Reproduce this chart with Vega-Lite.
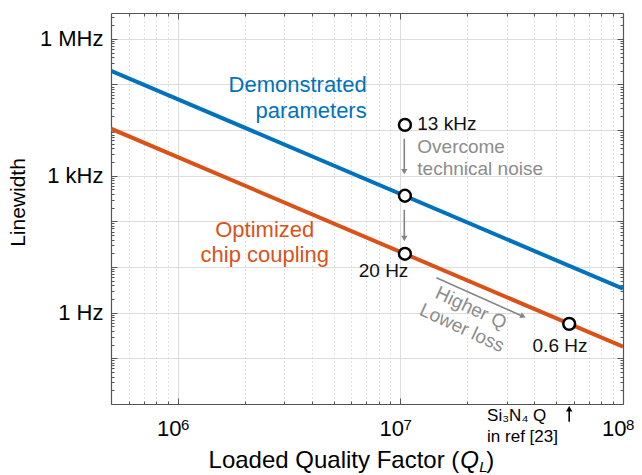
{
  "$schema": "https://vega.github.io/schema/vega-lite/v6.json",
  "autosize": {"type": "none"},
  "padding": {"left": 111, "top": 13, "right": 19, "bottom": 71},
  "width": 512,
  "height": 391,
  "config": {"font": "Liberation Sans", "view": {"stroke": null}},
  "datasets": {
    "lines": [
      {"series": "Demonstrated parameters", "q": 500000, "linewidth": 199500},
      {"series": "Demonstrated parameters", "q": 100000000, "linewidth": 3.35},
      {"series": "Optimized chip coupling", "q": 500000, "linewidth": 10715},
      {"series": "Optimized chip coupling", "q": 100000000, "linewidth": 0.18}
    ],
    "points": [
      {"q": 10470000, "linewidth": 13000},
      {"q": 10470000, "linewidth": 365},
      {"q": 10470000, "linewidth": 19.5},
      {"q": 57300000, "linewidth": 0.57}
    ],
    "grayArrows": [
      {"q": 10400000, "linewidth": 6460, "q2": 10400000, "linewidth2": 1290},
      {"q": 10400000, "linewidth": 180, "q2": 10400000, "linewidth2": 44},
      {"q": 14500000, "linewidth": 5.84, "q2": 34900000, "linewidth2": 0.86}
    ],
    "downHeads": [
      {"q": 10400000, "linewidth": 1230},
      {"q": 10400000, "linewidth": 42}
    ],
    "diagHead": [{"q": 35560000, "linewidth": 0.834}],
    "blackArrow": [{"q": 57300000, "linewidth": 0.0041, "q2": 57300000, "linewidth2": 0.0076}],
    "upHead": [{"q": 57300000, "linewidth": 0.0079}],
    "exponents": [
      {"label": "6", "q": 1031500, "linewidth": 0.002735},
      {"label": "7", "q": 10315000, "linewidth": 0.002735},
      {"label": "8", "q": 103150000, "linewidth": 0.002735}
    ]
  },
  "resolve": {"axis": {"x": "independent", "y": "independent"}},
  "layer": [
    {
      "data": {"name": "lines"},
      "mark": {"type": "line", "strokeWidth": 4, "clip": true},
      "encoding": {
        "x": {"field": "q", "type": "quantitative",
          "scale": {"type": "log", "domain": [500000, 100000000], "nice": false},
          "axis": {"orient": "bottom", "values": [1000000, 10000000, 100000000],
            "labelExpr": "'10'", "labelAlign": "right", "labelOffset": 3,
            "labelFontSize": 22, "labelColor": "#000", "labelPadding": 20, "labelFlush": false, "labelOverlap": false,
            "tickSize": -6, "tickColor": "#555", "domainColor": "#555", "domainWidth": 1.2,
            "grid": true, "gridColor": "#dddddd", "gridWidth": 1, "title": null}},
        "y": {"field": "linewidth", "type": "quantitative",
          "scale": {"type": "log", "domain": [0.01, 3670000], "nice": false},
          "axis": {"orient": "left", "values": [0.01, 0.1, 1, 10, 100, 1000, 10000, 100000, 1000000],
            "labelExpr": "datum.value == 1 ? '1 Hz' : datum.value == 1000 ? '1 kHz' : datum.value == 1000000 ? '1 MHz' : ''",
            "labelFontSize": 22, "labelColor": "#000", "labelPadding": 14, "labelFlush": false, "labelOverlap": false,
            "tickSize": -6, "tickColor": "#555", "domainColor": "#555", "domainWidth": 1.2,
            "grid": true, "gridColor": "#dddddd", "gridWidth": 1,
            "title": "Linewidth", "titleFontSize": 21, "titleFontWeight": "normal", "titleColor": "#000",
            "titleX": -93, "titleY": 189, "titleBaseline": "middle", "titleAlign": "center", "titleAngle": 270}},
        "color": {"field": "series", "type": "nominal",
          "scale": {"domain": ["Demonstrated parameters", "Optimized chip coupling"], "range": ["#0072BD", "#D95319"]},
          "legend": null}
      }
    },
    {
      "data": {"name": "points"},
      "mark": {"type": "point", "shape": "circle", "filled": true, "fill": "#ffffff", "stroke": "#000000", "strokeWidth": 2.5, "size": 140, "opacity": 1},
      "encoding": {
        "x": {"field": "q", "type": "quantitative",
          "axis": {"orient": "bottom", "values": [600000, 700000, 800000, 900000, 2000000, 3000000, 4000000, 5000000, 6000000, 7000000, 8000000, 9000000, 20000000, 30000000, 40000000, 50000000, 60000000, 70000000, 80000000, 90000000],
            "labels": false, "tickSize": -3, "tickColor": "#555", "domain": false,
            "grid": true, "gridColor": "#c4c4c4", "gridDash": [1, 3], "gridWidth": 1, "title": null}},
        "y": {"field": "linewidth", "type": "quantitative",
          "axis": {"orient": "left", "values": [0.02, 0.03, 0.04, 0.05, 0.06, 0.07, 0.08, 0.09, 0.2, 0.3, 0.4, 0.5, 0.6, 0.7, 0.8, 0.9, 2, 3, 4, 5, 6, 7, 8, 9, 20, 30, 40, 50, 60, 70, 80, 90, 200, 300, 400, 500, 600, 700, 800, 900, 2000, 3000, 4000, 5000, 6000, 7000, 8000, 9000, 20000, 30000, 40000, 50000, 60000, 70000, 80000, 90000, 200000, 300000, 400000, 500000, 600000, 700000, 800000, 900000, 2000000, 3000000],
            "labels": false, "tickSize": -3, "tickColor": "#555", "domain": false, "grid": false, "title": null}}
      }
    },
    {
      "data": {"name": "grayArrows"},
      "mark": {"type": "rule", "color": "#858585", "strokeWidth": 1.6},
      "encoding": {
        "x": {"field": "q", "type": "quantitative",
          "axis": {"orient": "top", "values": [1000000, 10000000, 100000000], "labels": false, "tickSize": -6, "tickColor": "#555", "domainColor": "#555", "domainWidth": 1.2, "grid": false, "title": null}},
        "y": {"field": "linewidth", "type": "quantitative",
          "axis": {"orient": "right", "values": [0.01, 0.1, 1, 10, 100, 1000, 10000, 100000, 1000000], "labels": false, "tickSize": -6, "tickColor": "#555", "domainColor": "#555", "domainWidth": 1.2, "grid": false, "title": null}},
        "x2": {"field": "q2"},
        "y2": {"field": "linewidth2"}
      }
    },
    {
      "data": {"name": "downHeads"},
      "mark": {"type": "point", "shape": "triangle-down", "filled": true, "color": "#858585", "size": 40, "opacity": 1},
      "encoding": {
        "x": {"field": "q", "type": "quantitative",
          "axis": {"orient": "top", "values": [600000, 700000, 800000, 900000, 2000000, 3000000, 4000000, 5000000, 6000000, 7000000, 8000000, 9000000, 20000000, 30000000, 40000000, 50000000, 60000000, 70000000, 80000000, 90000000],
            "labels": false, "tickSize": -3, "tickColor": "#555", "domain": false, "grid": false, "title": null}},
        "y": {"field": "linewidth", "type": "quantitative",
          "axis": {"orient": "right", "values": [0.02, 0.03, 0.04, 0.05, 0.06, 0.07, 0.08, 0.09, 0.2, 0.3, 0.4, 0.5, 0.6, 0.7, 0.8, 0.9, 2, 3, 4, 5, 6, 7, 8, 9, 20, 30, 40, 50, 60, 70, 80, 90, 200, 300, 400, 500, 600, 700, 800, 900, 2000, 3000, 4000, 5000, 6000, 7000, 8000, 9000, 20000, 30000, 40000, 50000, 60000, 70000, 80000, 90000, 200000, 300000, 400000, 500000, 600000, 700000, 800000, 900000, 2000000, 3000000],
            "labels": false, "tickSize": -3, "tickColor": "#555", "domain": false, "grid": false, "title": null}}
      }
    },
    {
      "data": {"name": "diagHead"},
      "mark": {"type": "point", "shape": "triangle-right", "angle": 24, "filled": true, "color": "#858585", "size": 40, "opacity": 1},
      "encoding": {
        "x": {"field": "q", "type": "quantitative", "axis": null},
        "y": {"field": "linewidth", "type": "quantitative", "axis": null}
      }
    },
    {
      "data": {"name": "blackArrow"},
      "mark": {"type": "rule", "color": "#000000", "strokeWidth": 1.6},
      "encoding": {
        "x": {"field": "q", "type": "quantitative", "axis": null},
        "y": {"field": "linewidth", "type": "quantitative", "axis": null},
        "x2": {"field": "q2"},
        "y2": {"field": "linewidth2"}
      }
    },
    {
      "data": {"name": "upHead"},
      "mark": {"type": "point", "shape": "triangle-up", "filled": true, "color": "#000000", "size": 40, "opacity": 1},
      "encoding": {
        "x": {"field": "q", "type": "quantitative", "axis": null},
        "y": {"field": "linewidth", "type": "quantitative", "axis": null}
      }
    },
    {
      "data": {"name": "exponents"},
      "mark": {"type": "text", "align": "left", "baseline": "alphabetic", "fontSize": 15, "color": "#000000"},
      "encoding": {
        "x": {"field": "q", "type": "quantitative", "axis": null},
        "y": {"field": "linewidth", "type": "quantitative", "axis": null},
        "text": {"field": "label"}
      }
    },
    {
      "data": {"values": [
        {"label": "Demonstrated", "q": 7050000, "linewidth": 69340},
        {"label": "parameters", "q": 7050000, "linewidth": 18700}
      ]},
      "mark": {"type": "text", "align": "right", "baseline": "alphabetic", "fontSize": 22, "color": "#0072BD"},
      "encoding": {
        "x": {"field": "q", "type": "quantitative", "axis": null},
        "y": {"field": "linewidth", "type": "quantitative", "axis": null},
        "text": {"field": "label"}
      }
    },
    {
      "data": {"values": [
        {"label": "Optimized", "q": 2455000, "linewidth": 46.2},
        {"label": "chip coupling", "q": 2455000, "linewidth": 13.1}
      ]},
      "mark": {"type": "text", "align": "center", "baseline": "alphabetic", "fontSize": 22, "color": "#D95319"},
      "encoding": {
        "x": {"field": "q", "type": "quantitative", "axis": null},
        "y": {"field": "linewidth", "type": "quantitative", "axis": null},
        "text": {"field": "label"}
      }
    },
    {
      "data": {"values": [
        {"label": "13 kHz", "q": 11900000, "linewidth": 10200}
      ]},
      "mark": {"type": "text", "align": "left", "baseline": "alphabetic", "fontSize": 19, "color": "#111111"},
      "encoding": {
        "x": {"field": "q", "type": "quantitative", "axis": null},
        "y": {"field": "linewidth", "type": "quantitative", "axis": null},
        "text": {"field": "label"}
      }
    },
    {
      "data": {"values": [
        {"label": "Overcome", "q": 11900000, "linewidth": 3199},
        {"label": "technical noise", "q": 11900000, "linewidth": 1055}
      ]},
      "mark": {"type": "text", "align": "left", "baseline": "alphabetic", "fontSize": 19, "color": "#8c8c8c"},
      "encoding": {
        "x": {"field": "q", "type": "quantitative", "axis": null},
        "y": {"field": "linewidth", "type": "quantitative", "axis": null},
        "text": {"field": "label"}
      }
    },
    {
      "data": {"values": [
        {"label": "20 Hz", "q": 8390000, "linewidth": 6.15},
        {"label": "0.6 Hz", "q": 52100000, "linewidth": 0.14}
      ]},
      "mark": {"type": "text", "align": "center", "baseline": "alphabetic", "fontSize": 19, "color": "#111111"},
      "encoding": {
        "x": {"field": "q", "type": "quantitative", "axis": null},
        "y": {"field": "linewidth", "type": "quantitative", "axis": null},
        "text": {"field": "label"}
      }
    },
    {
      "data": {"values": [
        {"label": "Higher Q", "q": 20750000, "linewidth": 1.268},
        {"label": "Lower loss", "q": 18900000, "linewidth": 0.462}
      ]},
      "mark": {"type": "text", "align": "center", "baseline": "middle", "angle": 25, "fontSize": 19, "color": "#8c8c8c"},
      "encoding": {
        "x": {"field": "q", "type": "quantitative", "axis": null},
        "y": {"field": "linewidth", "type": "quantitative", "axis": null},
        "text": {"field": "label"}
      }
    },
    {
      "data": {"values": [
        {"label": "Si₃N₄ Q", "q": 24500000, "linewidth": 0.0043},
        {"label": "in ref [23]", "q": 24500000, "linewidth": 0.00149}
      ]},
      "mark": {"type": "text", "align": "left", "baseline": "alphabetic", "fontSize": 17, "color": "#000000"},
      "encoding": {
        "x": {"field": "q", "type": "quantitative", "axis": null},
        "y": {"field": "linewidth", "type": "quantitative", "axis": null},
        "text": {"field": "label"}
      }
    },
    {
      "data": {"values": [
        {"label": "Loaded Quality Factor (", "q": 18390000, "linewidth": 0.000403}
      ]},
      "mark": {"type": "text", "align": "right", "baseline": "alphabetic", "fontSize": 24, "color": "#000000"},
      "encoding": {
        "x": {"field": "q", "type": "quantitative", "axis": null},
        "y": {"field": "linewidth", "type": "quantitative", "axis": null},
        "text": {"field": "label"}
      }
    },
    {
      "data": {"values": [
        {"label": ")", "q": 24320000, "linewidth": 0.000403}
      ]},
      "mark": {"type": "text", "align": "left", "baseline": "alphabetic", "fontSize": 24, "color": "#000000"},
      "encoding": {
        "x": {"field": "q", "type": "quantitative", "axis": null},
        "y": {"field": "linewidth", "type": "quantitative", "axis": null},
        "text": {"field": "label"}
      }
    },
    {
      "data": {"values": [
        {"label": "Q", "q": 18580000, "linewidth": 0.000403}
      ]},
      "mark": {"type": "text", "align": "left", "baseline": "alphabetic", "fontSize": 24, "fontStyle": "italic", "color": "#000000"},
      "encoding": {
        "x": {"field": "q", "type": "quantitative", "axis": null},
        "y": {"field": "linewidth", "type": "quantitative", "axis": null},
        "text": {"field": "label"}
      }
    },
    {
      "data": {"values": [
        {"label": "L", "q": 22600000, "linewidth": 0.000329}
      ]},
      "mark": {"type": "text", "align": "left", "baseline": "alphabetic", "fontSize": 15, "fontStyle": "italic", "color": "#000000"},
      "encoding": {
        "x": {"field": "q", "type": "quantitative", "axis": null},
        "y": {"field": "linewidth", "type": "quantitative", "axis": null},
        "text": {"field": "label"}
      }
    }
  ]
}
